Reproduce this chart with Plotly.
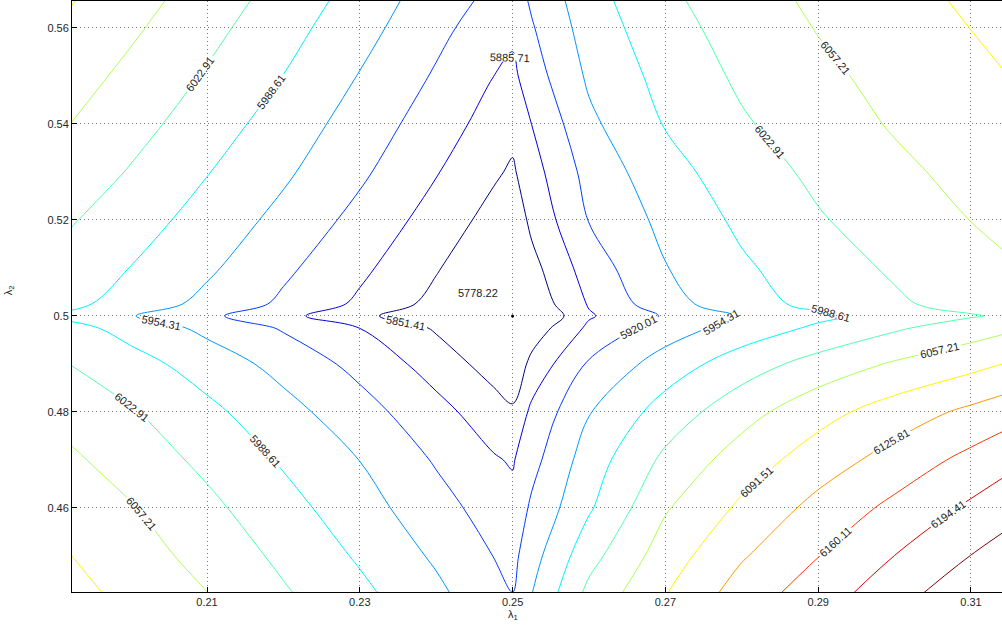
import plotly.graph_objects as go

# grid of the cost surface (lambda_1 across, lambda_2 up)
lam1 = [0.19, 0.20, 0.21, 0.22, 0.23, 0.24, 0.2475, 0.25, 0.2525, 0.26,
        0.27, 0.28, 0.29, 0.30, 0.31, 0.32]
lam2 = [0.44, 0.45, 0.46, 0.47, 0.48, 0.49, 0.4975, 0.50, 0.5025, 0.51,
        0.52, 0.53, 0.54, 0.55, 0.56, 0.57]

cost = [
    [6110.1, 6085.3, 6061.0, 6030.0, 6000.1, 5965.6, 5933.4, 5923.2, 5956.9, 6037.8, 6094.6, 6147.2, 6182.2, 6221.0, 6258.2, 6283.0],
    [6097.2, 6072.5, 6046.0, 6015.5, 5984.4, 5949.2, 5919.6, 5910.2, 5941.3, 6011.1, 6074.3, 6122.5, 6159.4, 6194.7, 6229.3, 6257.4],
    [6084.3, 6059.7, 6031.0, 6001.0, 5968.7, 5932.8, 5905.8, 5897.2, 5925.7, 5984.4, 6054.0, 6097.8, 6136.6, 6168.4, 6200.4, 6231.8],
    [6068.3, 6042.3, 6015.0, 5984.6, 5953.9, 5916.7, 5889.0, 5882.6, 5909.0, 5971.4, 6030.3, 6073.4, 6108.3, 6139.3, 6169.8, 6200.9],
    [6050.8, 6026.1, 5996.9, 5966.3, 5933.8, 5897.0, 5867.2, 5857.2, 5893.3, 5952.5, 6003.4, 6044.3, 6079.5, 6107.5, 6133.4, 6162.7],
    [6027.9, 6001.7, 5973.4, 5942.8, 5909.8, 5871.0, 5836.9, 5823.4, 5861.6, 5924.3, 5970.2, 6006.5, 6035.8, 6061.0, 6081.3, 6105.8],
    [6005.7, 5976.2, 5945.9, 5916.6, 5885.4, 5847.3, 5809.0, 5796.2, 5830.7, 5892.5, 5936.9, 5968.7, 5994.3, 6018.1, 6040.4, 6062.2],
    [5983.2, 5956.4, 5927.3, 5895.7, 5861.8, 5821.3, 5789.0, 5778.22, 5812.0, 5882.0, 5923.8, 5957.1, 5981.0, 6001.3, 6019.9, 6037.3],
    [6002.6, 5974.1, 5945.0, 5913.6, 5879.4, 5840.7, 5807.3, 5796.2, 5826.9, 5888.6, 5941.6, 5974.6, 5998.3, 6017.7, 6035.9, 6053.6],
    [6015.1, 5988.0, 5960.1, 5926.9, 5893.3, 5854.3, 5821.1, 5810.0, 5840.4, 5902.5, 5952.9, 5983.7, 6006.9, 6027.6, 6045.1, 6062.5],
    [6031.7, 6004.1, 5975.4, 5944.6, 5909.7, 5872.0, 5839.4, 5828.3, 5859.5, 5921.3, 5963.6, 5995.5, 6020.0, 6039.2, 6057.7, 6074.9],
    [6048.8, 6020.5, 5990.1, 5960.0, 5926.2, 5887.7, 5856.8, 5846.6, 5872.4, 5932.1, 5976.6, 6006.5, 6030.2, 6049.9, 6067.3, 6083.4],
    [6063.0, 6035.3, 6005.9, 5972.9, 5940.1, 5902.4, 5872.3, 5862.7, 5886.0, 5947.2, 5990.6, 6019.2, 6040.8, 6060.3, 6076.1, 6091.8],
    [6077.5, 6048.8, 6019.8, 5988.2, 5952.8, 5916.4, 5885.9, 5878.0, 5904.4, 5959.8, 6000.2, 6028.8, 6049.8, 6067.7, 6083.8, 6099.6],
    [6091.6, 6062.9, 6033.1, 6001.7, 5966.8, 5929.1, 5902.1, 5893.3, 5917.1, 5969.9, 6010.2, 6037.0, 6058.8, 6075.4, 6091.9, 6105.6],
    [6105.5, 6077.0, 6046.4, 6015.2, 5980.8, 5941.8, 5918.3, 5908.6, 5929.8, 5980.0, 6020.2, 6045.2, 6067.8, 6083.1, 6100.0, 6111.6],
]

level_start = 5851.41
level_end = 6228.71
level_step = 34.3
color_min = 5851.41
color_max = 6263.01

min_lam1 = [0.25]
min_lam2 = [0.50]
min_label = "5778.22"

x_ticks = [0.21, 0.23, 0.25, 0.27, 0.29, 0.31]
y_ticks = [0.46, 0.48, 0.50, 0.52, 0.54, 0.56]

jet = [[0.0, "rgb(0,0,128)"], [0.125, "rgb(0,0,255)"], [0.375, "rgb(0,255,255)"],
       [0.625, "rgb(255,255,0)"], [0.875, "rgb(255,0,0)"], [1.0, "rgb(128,0,0)"]]

FONT = "Liberation Sans, Arial, Helvetica, sans-serif"

fig = go.Figure()
fig.add_trace(go.Contour(
    x=lam1, y=lam2, z=cost,
    contours=dict(start=level_start, end=level_end, size=level_step,
                  coloring="lines", showlabels=True, labelformat=".2f",
                  labelfont=dict(size=11, color="#222222", family=FONT)),
    colorscale=jet, zmin=color_min, zmax=color_max, zauto=False,
    showscale=False, line=dict(width=1, smoothing=1.0), hoverinfo="skip",
))
fig.add_trace(go.Scatter(x=min_lam1, y=min_lam2, mode="markers",
                         marker=dict(size=3, color="black"), hoverinfo="skip",
                         showlegend=False))
fig.add_annotation(x=0.2455, y=0.5048, text=min_label, showarrow=False,
                   font=dict(size=11, color="#222222", family=FONT))
fig.add_annotation(x=0.25, y=-0.039, xref="x", yref="paper", yanchor="middle",
                   text="λ<sub>1</sub>", showarrow=False,
                   font=dict(size=11, color="#222222", family=FONT))
fig.add_annotation(x=-0.068, y=0.51, xref="paper", yref="paper", xanchor="center",
                   text="λ<sub>2</sub>", textangle=-90, showarrow=False,
                   font=dict(size=11, color="#222222", family=FONT))

axis_common = dict(showgrid=True, gridcolor="#777777", griddash="1px,3px", gridwidth=1,
                   ticks="inside", ticklen=5, tickcolor="black", showline=True,
                   linecolor="black", linewidth=1, mirror=True, zeroline=False,
                   tickfont=dict(size=11, color="#262626", family=FONT))
fig.update_xaxes(range=[0.19233, 0.31406], tickvals=x_ticks,
                 ticktext=[f"{v:g}" for v in x_ticks], **axis_common)
fig.update_yaxes(range=[0.4425, 0.5656], tickvals=y_ticks,
                 ticktext=[f"{v:g}" for v in y_ticks], **axis_common)

fig.update_layout(width=1002, height=626, margin=dict(l=72, r=0, t=1, b=34),
                  plot_bgcolor="white", paper_bgcolor="white", showlegend=False,
                  font=dict(family=FONT))
fig.write_html("out.html")
